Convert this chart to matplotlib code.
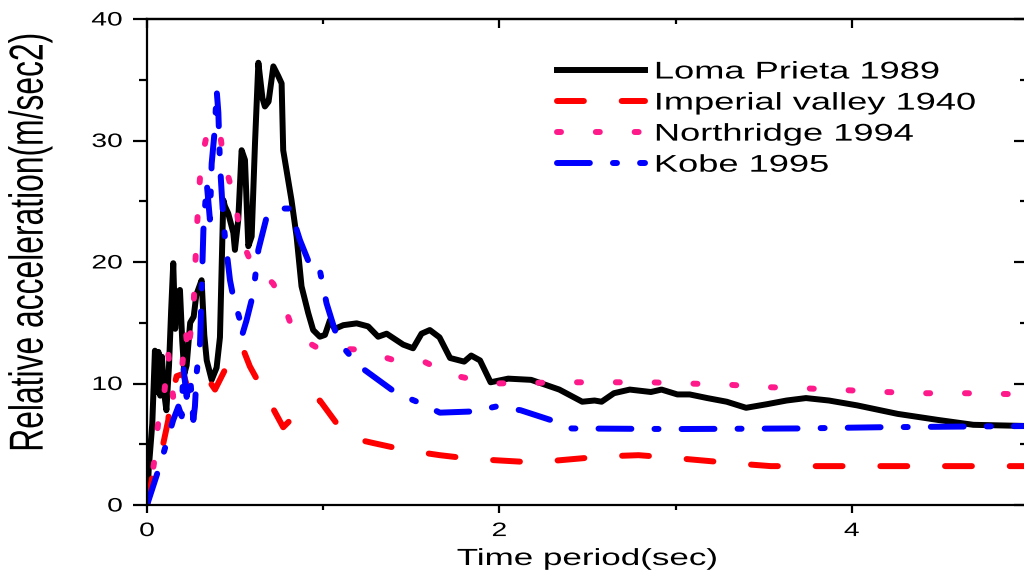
import matplotlib
matplotlib.use("Agg")
import matplotlib.pyplot as plt
from matplotlib.patheffects import AbstractPathEffect
from matplotlib.transforms import Affine2D

plt.rcParams['font.family'] = ['Liberation Sans', 'DejaVu Sans']

# Spectra
loma_t = [0, 0.01, 0.03, 0.045, 0.055, 0.065, 0.075, 0.085, 0.095, 0.11,
          0.125, 0.137, 0.149, 0.16, 0.172, 0.187, 0.2, 0.212, 0.225, 0.245,
          0.265, 0.28, 0.29, 0.31, 0.325, 0.339, 0.367, 0.395, 0.414, 0.433,
          0.442, 0.461, 0.49, 0.499, 0.518, 0.537, 0.556, 0.575, 0.594, 0.613,
          0.632, 0.655, 0.669, 0.69, 0.717, 0.745, 0.764, 0.773, 0.82, 0.849,
          0.877, 0.915, 0.943, 0.981, 1.01, 1.038, 1.066, 1.114, 1.19, 1.255,
          1.312, 1.36, 1.454, 1.51, 1.558, 1.605, 1.66, 1.72, 1.80, 1.84,
          1.89, 1.95, 2.05, 2.18, 2.34, 2.47, 2.54, 2.58, 2.65, 2.74,
          2.86, 2.92, 3.01, 3.08, 3.18, 3.29, 3.40, 3.52, 3.63, 3.74,
          3.87, 4.03, 4.26, 4.49, 4.69, 5.0]
loma_a = [0, 3.0, 6.7, 12.7, 9.3, 12.6, 9.0, 12.2, 9.5, 7.8,
          11.5, 16.0, 19.9, 14.5, 17.5, 17.7, 13.5, 10.8, 11.5, 15.0,
          15.5, 17.3, 17.7, 18.5, 14.0, 11.9, 10.3, 11.3, 13.8, 25.1,
          24.6, 24.0, 22.4, 21.0, 23.5, 29.2, 28.4, 21.3, 22.1, 29.8,
          36.4, 33.5, 32.8, 33.2, 36.1, 35.3, 34.7, 29.2, 25.1, 22.1,
          18.0, 15.8, 14.4, 13.85, 14.0, 15.2, 14.5, 14.8, 14.95, 14.7,
          13.85, 14.1, 13.2, 12.9, 14.1, 14.4, 13.8, 12.1, 11.8, 12.3,
          11.9, 10.1, 10.4, 10.3, 9.5, 8.5, 8.6, 8.5, 9.2, 9.5,
          9.3, 9.5, 9.1, 9.1, 8.8, 8.5, 8.0, 8.3, 8.6, 8.8,
          8.6, 8.2, 7.5, 7.0, 6.6, 6.5]

imp_t = [0, 0.02, 0.045, 0.093, 0.121, 0.13, 0.15, 0.168, 0.206, 0.234,
         0.26, 0.291, 0.339, 0.386, 0.452, 0.509, 0.546, 0.584, 0.698, 0.773,
         0.849, 0.981, 1.133, 1.284, 1.473, 1.662, 1.84, 2.2, 2.59, 2.79,
         2.97, 3.36, 3.54, 5.0]
imp_a = [0, 1.5, 3.7, 5.1, 7.0, 8.9, 9.5, 10.6, 10.8, 9.5,
         10.5, 10.8, 10.5, 9.5, 11.4, 13.0, 12.8, 11.4, 8.4, 6.4,
         7.5, 8.6, 5.6, 5.1, 4.5, 4.1, 3.8, 3.5, 4.0, 4.1,
         3.9, 3.4, 3.2, 3.2]

nor_t = [0, 0.02, 0.04, 0.063, 0.09, 0.12, 0.148, 0.17, 0.2, 0.22,
         0.233, 0.244, 0.263, 0.272, 0.282, 0.291, 0.301, 0.32, 0.348, 0.37,
         0.414, 0.433, 0.471, 0.509, 0.528, 0.584, 0.717, 0.783, 0.839, 0.972,
         1.199, 1.407, 1.558, 1.73, 1.96, 2.4, 2.85, 3.07, 3.3, 3.52,
         3.74, 3.97, 4.19, 4.42, 4.65, 5.0]
nor_a = [0, 1.5, 3.5, 6.7, 8.0, 12.5, 8.9, 10.8, 11.5, 14.4,
         12.3, 13.85, 15.9, 19.0, 22.5, 24.7, 27.0, 29.1, 31.1, 31.2,
         30.7, 28.5, 26.5, 24.3, 22.1, 20.2, 18.2, 16.2, 14.0, 12.9,
         12.8, 11.9, 11.9, 10.7, 10.0, 10.1, 10.1, 10.0, 9.9, 9.7,
         9.6, 9.45, 9.3, 9.2, 9.2, 9.1]

kobe_t = [0, 0.036, 0.074, 0.121, 0.149, 0.178, 0.197, 0.206, 0.225, 0.245,
          0.263, 0.272, 0.282, 0.301, 0.31, 0.32, 0.339, 0.357, 0.367, 0.386,
          0.395, 0.405, 0.414, 0.433, 0.442, 0.471, 0.49, 0.528, 0.537, 0.565,
          0.603, 0.632, 0.679, 0.754, 0.811, 0.868, 0.943, 0.981, 1.019, 1.066,
          1.123, 1.208, 1.416, 1.549, 1.662, 1.85, 1.98, 2.12, 2.29, 2.41,
          3.0, 3.69, 4.16, 5.0]
kobe_a = [0, 1.6, 3.3, 5.6, 7.0, 8.1, 7.3, 11.4, 8.9, 10.5,
          7.0, 8.1, 10.9, 13.3, 17.5, 22.6, 26.5, 23.5, 28.1, 31.1,
          34.2, 32.3, 28.1, 23.5, 22.1, 18.5, 17.1, 15.2, 13.85, 15.2,
          17.4, 21.0, 23.7, 24.4, 24.4, 21.8, 19.1, 19.3, 16.6, 14.4,
          12.8, 11.4, 9.2, 8.4, 7.6, 7.7, 8.1, 7.8, 7.0, 6.3,
          6.25, 6.3, 6.4, 6.5]

labels = ["Loma Prieta 1989", "Imperial valley 1940", "Northridge 1994", "Kobe 1995"]


# the original figure was stretched sideways, so widen the glyphs the same way
class Stretch(AbstractPathEffect):
    def __init__(self, sx=1.5, anchor='center'):
        super().__init__()
        self.sx = sx
        self.anchor = anchor

    def draw_path(self, renderer, gc, tpath, affine, rgbFace=None):
        ext = tpath.get_extents(affine)
        x0 = {'left': ext.x0, 'center': 0.5 * (ext.x0 + ext.x1), 'right': ext.x1}[self.anchor]
        widen = Affine2D().translate(-x0, 0).scale(self.sx, 1).translate(x0, 0)
        renderer.draw_path(gc, tpath, affine + widen, rgbFace)


fig = plt.figure(figsize=(10.24, 5.84), dpi=100)
ax = fig.add_axes([147 / 1024, 79 / 584, 881 / 1024, 486 / 584])

lw = 4.3
ax.plot(loma_t, loma_a, color='black', lw=lw, solid_joinstyle='round', label=labels[0])
ax.plot(imp_t, imp_a, color='#ff0000', lw=lw, ls=(0, (4.5, 6.33)),
        dash_capstyle='round', label=labels[1])
ax.plot(nor_t, nor_a, color='#ff1a8c', lw=lw, ls=(0, (0.67, 5.83)),
        dash_capstyle='round', label=labels[2])
ax.plot(kobe_t, kobe_a, color='#0000ff', lw=lw, ls=(0, (5.5, 3.87, 0.67, 3.87)),
        dash_capstyle='round', label=labels[3])

ax.set_xlim(0, 5)
ax.set_ylim(0, 40)
ax.set_xticks([0, 2, 4])
ax.set_xticks([1, 3, 5], minor=True)
ax.set_yticks([0, 10, 20, 30, 40])
ax.set_yticks([5, 15, 25, 35], minor=True)

for s in ax.spines.values():
    s.set_linewidth(1.6)
ax.tick_params(axis='x', which='major', direction='out', length=5.8, width=1.6,
               pad=7.2, labelsize=14)
ax.tick_params(axis='x', which='minor', direction='out', length=3.6, width=1.6)
ax.tick_params(axis='y', which='major', direction='out', length=10.4, width=1.6,
               pad=7.2, labelsize=14)
ax.tick_params(axis='y', which='minor', direction='out', length=5.8, width=1.6)

# mirrored ticks on top and right point inward
top = ax.secondary_xaxis('top')
top.set_xticks([0, 2, 4])
top.set_xticks([1, 3, 5], minor=True)
top.tick_params(which='major', direction='in', length=6.5, width=1.6, labeltop=False)
top.tick_params(which='minor', direction='in', length=3.6, width=1.6)
top.spines['top'].set_linewidth(1.6)
right = ax.secondary_yaxis('right')
right.set_yticks([0, 10, 20, 30, 40])
right.set_yticks([5, 15, 25, 35], minor=True)
right.tick_params(which='major', direction='in', length=10.4, width=1.6, labelright=False)
right.tick_params(which='minor', direction='in', length=5.8, width=1.6)

for t in ax.get_xticklabels():
    t.set_path_effects([Stretch(1.45, 'center')])
for t in ax.get_yticklabels():
    t.set_path_effects([Stretch(1.45, 'right')])

ax.set_xlabel("Time period(sec)", fontsize=16.8, va='top')
ax.xaxis.set_label_coords(0.5, -0.0864)
ax.xaxis.label.set_path_effects([Stretch(1.5, 'center')])

ax.set_ylabel("Relative acceleration(m/sec2)", fontsize=22.9, va='center')
ax.yaxis.set_label_coords(-0.1322, 0.540)
ax.yaxis.label.set_path_effects([Stretch(1.5, 'center')])

leg = ax.legend(loc='upper left', bbox_to_anchor=(557 / 1024, 1 - 61.5 / 584),
                bbox_transform=fig.transFigure, frameon=False, fontsize=17.4,
                borderpad=0, borderaxespad=0, handlelength=3.64,
                handletextpad=0.41, labelspacing=0.375)
for t in leg.get_texts():
    t.set_path_effects([Stretch(1.5, 'left')])

fig.savefig("out.png", dpi=100)
